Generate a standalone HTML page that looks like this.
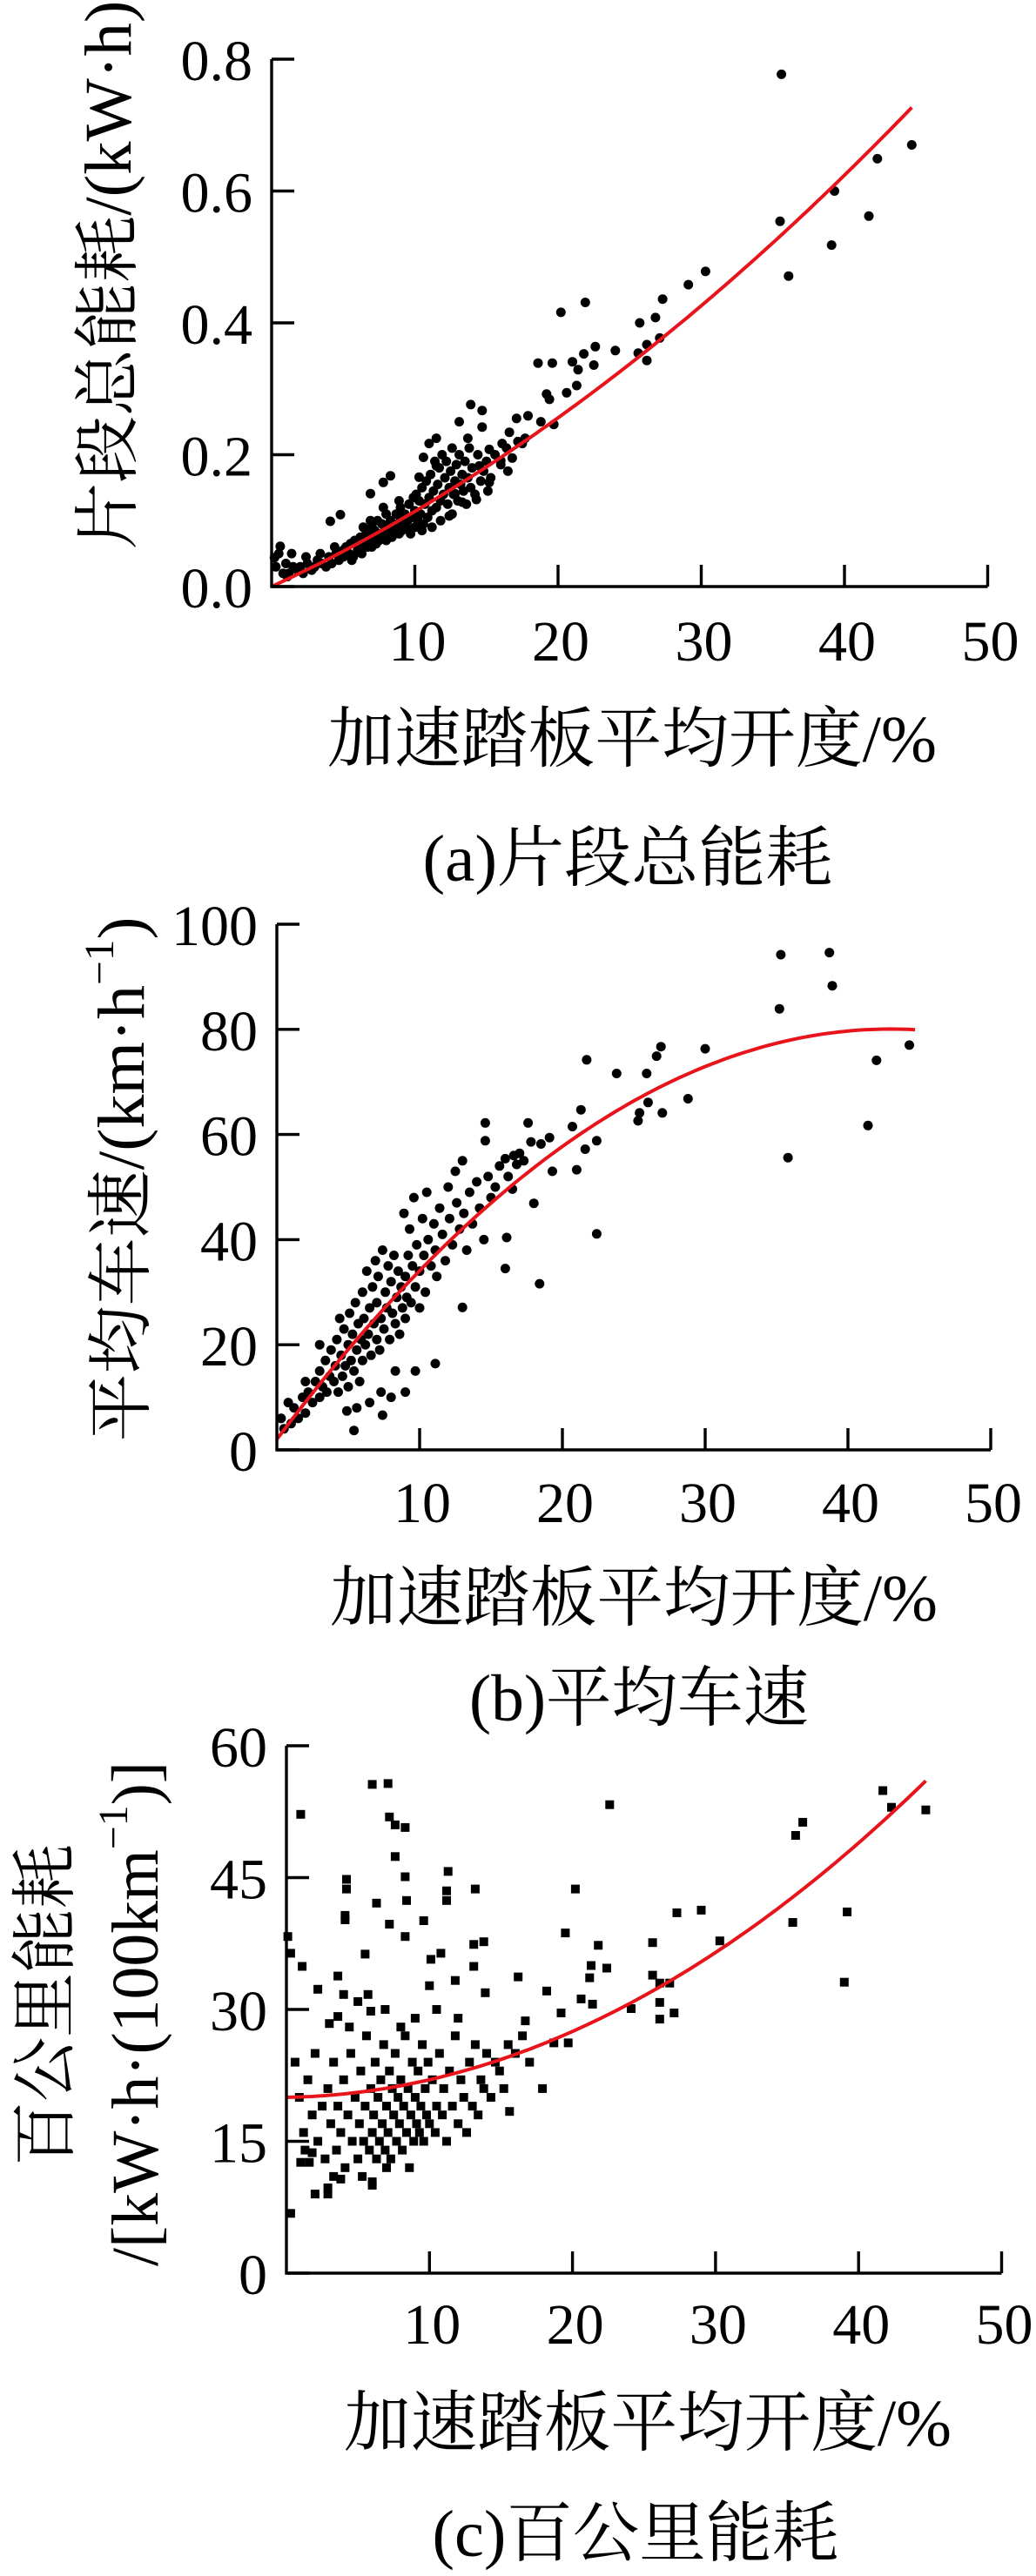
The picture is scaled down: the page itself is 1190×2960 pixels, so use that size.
<!DOCTYPE html>
<html><head><meta charset="utf-8">
<style>
html,body{margin:0;padding:0;background:#fff;}
svg{display:block;}
.tk{font-family:"Liberation Serif",serif;font-size:66px;fill:#000;}
.tt{font-family:"Liberation Serif","Noto Serif CJK SC",serif;font-size:76px;fill:#000;}
</style></head>
<body>
<svg id="fig" width="1190" height="2960" viewBox="0 0 1190 2960" xmlns="http://www.w3.org/2000/svg">
<rect width="1190" height="2960" fill="#fff"/>
<g id="pa"></g>
<g id="pb"></g>
<g id="pc"></g>
</svg>
<script>
// ---------- data ----------
const xTicks = [10,20,30,40,50];
const yTicksA = [0.0,0.2,0.4,0.6,0.8];
const yTickLabelsA = ["0.0","0.2","0.4","0.6","0.8"];
const yTicksB = [0,20,40,60,80,100];
const yTicksC = [0,15,30,45,60];

const xA = [35.6,44.7,42.3,39.3,35.5,41.7,39.1,36.1,30.3,29.1,27.3,26.8,25.7,27.1,26.2,25.6,26.2,24.0,22.6,21.9,20.2,21.8,21.0,21.4,22.5,21.3,20.6,19.6,18.6,19.2,19.4,19.7,18.8,17.9,17.1,17.7,17.5,16.6,16.1,16.5,16.0,14.7,13.9,13.1,13.7,14.7,15.2,14.5,15.2,15.1,14.3,13.3,12.8,12.4,11.5,11.0,10.6,11.5,10.3,8.3,7.8,6.9,4.8,4.1,0.6,0.2,
0.3,0.8,1.0,1.2,1.5,1.8,2.0,2.2,2.5,2.8,3.0,3.2,3.5,3.8,4.0,4.2,4.5,4.7,5.0,5.0,5.2,5.4,5.5,5.7,5.8,6.0,6.1,6.2,6.3,6.5,6.6,6.7,6.8,7.0,7.0,7.1,7.2,7.3,7.4,7.5,7.6,7.7,7.8,7.9,8.0,8.0,8.1,8.2,8.3,8.4,8.5,8.6,8.7,8.8,8.9,9.0,9.0,9.1,9.2,9.3,9.4,9.5,9.6,9.7,9.8,10.0,10.0,10.1,10.2,10.3,10.4,10.5,10.6,10.7,10.8,10.9,11.0,11.1,11.2,11.3,11.4,11.5,11.6,11.7,11.8,11.9,12.0,12.1,12.2,12.3,12.4,12.5,12.6,12.7,12.8,12.9,13.0,13.1,13.2,13.3,13.4,13.5,13.6,13.7,13.8,13.9,14.0,14.2,14.4,14.6,14.8,15.0,15.3,15.6,16.0,16.4,16.8,17.2,3.4,4.4,5.6,6.4,2.4,1.4,0.5,1.1,9.9,8.9,7.8,6.9,11.2,12.6,11.8,10.5];
const yA = [0.777,0.670,0.649,0.600,0.554,0.562,0.518,0.471,0.478,0.458,0.436,0.408,0.400,0.377,0.367,0.354,0.343,0.358,0.364,0.431,0.416,0.353,0.341,0.329,0.336,0.305,0.294,0.339,0.339,0.292,0.284,0.246,0.250,0.259,0.255,0.225,0.217,0.234,0.217,0.175,0.191,0.267,0.276,0.250,0.225,0.242,0.208,0.183,0.158,0.145,0.132,0.128,0.141,0.107,0.225,0.217,0.196,0.183,0.166,0.168,0.158,0.141,0.109,0.099,0.061,0.044,
0.03,0.02,0.035,0.02,0.03,0.025,0.03,0.02,0.035,0.025,0.03,0.04,0.035,0.03,0.045,0.035,0.05,0.04,0.055,0.045,0.06,0.05,0.065,0.045,0.07,0.055,0.06,0.075,0.05,0.065,0.08,0.06,0.07,0.09,0.06,0.075,0.085,0.065,0.1,0.07,0.08,0.095,0.075,0.085,0.11,0.07,0.09,0.08,0.1,0.075,0.095,0.085,0.11,0.09,0.08,0.1,0.12,0.085,0.095,0.11,0.09,0.1,0.125,0.08,0.105,0.115,0.09,0.14,0.1,0.13,0.11,0.15,0.095,0.125,0.16,0.105,0.135,0.17,0.115,0.145,0.19,0.12,0.155,0.18,0.13,0.2,0.14,0.165,0.19,0.125,0.15,0.175,0.21,0.14,0.16,0.185,0.13,0.2,0.155,0.17,0.145,0.19,0.125,0.165,0.21,0.15,0.18,0.14,0.2,0.16,0.175,0.19,0.165,0.2,0.185,0.21,0.195,0.22,0.05,0.06,0.04,0.09,0.045,0.05,0.05,0.015,0.135,0.13,0.12,0.1,0.09,0.11,0.1,0.085];

const xB = [35.3,38.7,38.9,35.2,44.3,42.0,41.4,35.8,30.0,26.9,26.6,25.9,23.8,21.7,28.8,27.0,26.0,25.4,25.3,21.3,20.7,22.4,21.6,21.0,22.4,19.3,19.1,18.5,17.8,17.6,18.0,18.4,17.0,16.8,16.0,16.5,16.1,16.0,14.6,14.6,11.1,13.0,5.4,4.9,7.4,
0.3,0.5,0.8,1.0,1.2,1.5,1.8,2.0,2.2,2.5,2.7,3.0,3.0,3.2,3.4,3.5,3.7,3.8,4.0,4.1,4.2,4.3,4.5,4.6,4.7,4.8,5.0,5.0,5.1,5.2,5.3,5.4,5.5,5.6,5.7,5.8,5.9,6.0,6.0,6.1,6.2,6.3,6.4,6.5,6.6,6.7,6.8,6.9,7.0,7.0,7.1,7.2,7.3,7.4,7.5,7.6,7.7,7.8,7.9,8.0,8.1,8.2,8.3,8.4,8.5,8.6,8.7,8.8,8.9,9.0,9.0,9.1,9.2,9.3,9.4,9.5,9.6,9.7,9.8,10.0,10.0,10.2,10.3,10.4,10.5,10.6,10.8,11.0,11.1,11.2,11.4,11.6,11.8,12.0,12.1,12.3,12.5,12.6,12.8,13.0,13.1,13.3,13.5,13.7,14.0,14.2,14.5,14.8,15.0,15.3,15.6,16.2,16.6,17.3,6.5,5.6,7.3,8.3,9.0,8.0,9.7,3.0,4.4,2.0];
const yB = [94.2,94.6,88.3,83.9,77.0,74.1,61.7,55.6,76.3,76.7,74.9,71.6,71.6,74.2,66.8,64.1,66.1,64.1,62.6,64.7,61.5,58.8,57.2,53.3,41.1,53.0,59.4,58.2,58.6,62.2,46.9,31.6,56.4,54.3,55.4,49.6,40.4,34.5,62.2,58.8,16.4,27.1,3.7,7.4,6.6,
6,4,9,5,8,6,10,7,11,9,13,10,15,12,17,11,14,19,13,16,21,11,18,14,23,16,20,12,26,17,22,15,28,19,24,13,21,30,17,25,20,34,22,27,18,31,24,36,21,28,33,19,25,38,23,30,27,35,21,32,26,37,24,29,34,22,31,27,45,33,25,29,37,42,28,35,48,31,39,34,27,44,37,30,49,40,35,43,38,33,46,41,36,50,44,39,53,47,42,55,45,38,49,43,51,46,40,52,48,50,54,52,56,55,9,8,11,15,11,10,15,20,25,13];

const xC = [41.7,42.3,44.7,36.1,35.6,35.4,39.2,39.0,29.0,27.3,30.3,25.6,25.6,26.1,26.8,26.1,26.1,27.1,24.1,22.6,20.2,21.8,21.3,22.4,21.2,20.6,21.4,19.5,19.2,19.7,18.2,18.7,17.9,16.7,16.2,15.6,7.1,6.0,7.2,8.3,7.6,7.6,8.3,8.4,6.3,7.2,8.3,9.6,11.3,11.2,11.2,13.2,13.8,13.1,13.1,13.9,10.8,10.1,10.0,11.8,4.2,4.2,4.1,4.1,5.5,1.0,0.1,0.3,1.1,3.6,2.2,4.0,5.0,5.7,5.9,3.0,3.6,0.3,2.0,2.9,2.9,3.8,6.0,1.0,1.6,1.8,1.3,
0.6,0.9,1.2,1.5,1.8,2.0,2.2,2.5,2.7,2.9,3.1,3.3,3.5,3.6,3.8,4.0,4.1,4.3,4.5,4.6,4.8,5.0,5.1,5.2,5.4,5.5,5.6,5.8,5.9,6.0,6.1,6.2,6.3,6.4,6.5,6.6,6.7,6.8,6.9,7.0,7.1,7.2,7.3,7.4,7.5,7.6,7.7,7.8,7.9,8.0,8.1,8.2,8.3,8.4,8.5,8.6,8.7,8.8,8.9,9.0,9.1,9.2,9.3,9.4,9.5,9.6,9.7,9.8,9.9,10.0,10.2,10.4,10.5,10.7,10.9,11.0,11.2,11.4,11.6,11.8,12.0,12.2,12.4,12.6,12.8,13.0,13.2,13.4,13.6,13.8,14.0,14.3,14.6,14.9,15.2,15.5,16.0,16.5,17.0,5.3,6.0,7.0,3.3,4.4,6.9,9.0,8.0,10.5,12.0];
const yC = [54.9,53.0,52.7,51.3,49.8,39.9,41.1,33.1,41.3,41.0,37.8,37.6,33.9,33.0,33.0,30.8,28.9,29.6,30.1,53.3,43.7,37.3,35.0,34.7,33.6,31.2,30.6,38.7,29.6,26.2,32.1,26.2,21.0,28.7,33.7,18.4,55.7,55.6,51.9,50.7,51.0,47.4,45.1,42.4,42.1,39.7,38.3,40.1,45.7,43.5,42.4,43.7,37.7,37.4,34.9,31.9,36.4,35.7,32.7,33.3,44.8,43.7,40.7,40.2,36.3,52.2,38.3,36.4,34.9,33.8,32.3,31.7,30.9,31.7,29.8,28.4,29.2,6.8,9.0,9.0,9.7,10.7,10.4,12.6,12.6,13.7,14.0,
24,20,16,22,18,25,15,19,13,21,17,24,14,19,16,22,12,18,25,15,20,13,17,23,15,19,27,14,21,16,18,24,13,20,15,22,17,26,14,19,16,23,13,21,18,25,15,20,17,22,14,19,27,16,21,12,18,24,15,20,17,23,16,19,26,15,21,18,24,17,22,16,19,25,18,21,15,23,19,27,17,22,20,16,24,19,26,18,22,21,25,20,24,23,21,26,25,27,24,11,10,12,11,28,30,29,28,30,29];

// fitted curve coefficients (c0 + c1*x + c2*x^2) and x range
const fitA = [0, 0.0100, 0.00014];
const fitB = [2, 3.63, -0.0422];
const fitC = [20, 0.0264, 0.01743];
const fitXMax = 44.7;

// ---------- rendering ----------
const NS = "http://www.w3.org/2000/svg";
function mk(parent, tag, attrs) {
  const e = document.createElementNS(NS, tag);
  for (const k in attrs) e.setAttribute(k, attrs[k]);
  parent.appendChild(e);
  return e;
}
function drawPanel(gid, cfg, xs, ys, fit, yTicks, yLabels, marker) {
  const g = document.getElementById(gid);
  const sx = v => cfg.x0 + v * cfg.xPer;
  const sy = v => cfg.y0 - (v / cfg.yMax) * (cfg.y0 - cfg.yTop);
  const pg = mk(g, "g", {});
  
  
  for (let i = 0; i < xs.length; i++) {
    let p;
    if (marker === "sq") {
      p = mk(pg, "rect", {x: (sx(xs[i]) - 5).toFixed(1), y: (sy(ys[i]) - 5).toFixed(1), width: 10, height: 10, fill: "#000"});
    } else {
      p = mk(pg, "circle", {cx: sx(xs[i]).toFixed(1), cy: sy(ys[i]).toFixed(1), r: 5.5, fill: "#000"});
    }
    
    
  }
  let d = "";
  for (let k = 0; k <= 100; k++) {
    const x = fitXMax * k / 100;
    const y = fit[0] + fit[1] * x + fit[2] * x * x;
    d += (k ? "L" : "M") + sx(x).toFixed(1) + "," + sy(y).toFixed(1);
  }
  const c = mk(g, "path", {d: d, fill: "none", stroke: "#e8141b", "stroke-width": 4});
  
  
  const ax = mk(g, "path", {d: `M${cfg.x0},${cfg.yTop}V${cfg.y0}H${sx(50)}`, fill: "none", stroke: "#000", "stroke-width": 3.4});
  
  
  xTicks.forEach(t => {
    const l = mk(g, "line", {x1: sx(t), x2: sx(t), y1: cfg.y0, y2: cfg.y0 - 25, stroke: "#000", "stroke-width": 3.4});
    
    
    const tx = mk(g, "text", {x: sx(t) + 3, y: cfg.xLabY, "text-anchor": "middle", class: "tk"});
    tx.textContent = String(t);
    
    
  });
  yTicks.forEach((t, i) => {
    const l = mk(g, "line", {x1: cfg.x0, x2: cfg.x0 + 26, y1: sy(t), y2: sy(t), stroke: "#000", "stroke-width": 3.4});
    
    
    const tx = mk(g, "text", {x: cfg.x0 - 22, y: sy(t) + 24, "text-anchor": "end", class: "tk"});
    tx.textContent = yLabels ? yLabels[i] : String(t);
    
    
  });
}
drawPanel("pa", {x0: 312, xPer: 16.45, y0: 674, yTop: 68, yMax: 0.8, xLabY: 759}, xA, yA, fitA, yTicksA, yTickLabelsA, "dot");
drawPanel("pb", {x0: 318, xPer: 16.4, y0: 1666, yTop: 1062, yMax: 100, xLabY: 1749}, xB, yB, fitB, yTicksB, null, "dot");
drawPanel("pc", {x0: 329, xPer: 16.43, y0: 2612, yTop: 2006, yMax: 60, xLabY: 2693}, xC, yC, fitC, yTicksC, null, "sq");
</script>
<script>
(function(){
const NS="http://www.w3.org/2000/svg";
const svg=document.getElementById("fig");
function txt(x,y,s,len,rot,name){
  const t=document.createElementNS(NS,"text");
  t.setAttribute("x",x);t.setAttribute("y",y);
  t.setAttribute("class","tt");
  t.setAttribute("text-anchor","middle");
  if(len){t.setAttribute("textLength",len);t.setAttribute("lengthAdjust","spacingAndGlyphs");}
  if(rot){t.setAttribute("transform",`rotate(-90 ${x} ${y})`);t.setAttribute("dominant-baseline","central");}
  t.innerHTML=s;
  
  
  svg.appendChild(t);
}
txt(726,875,"加速踏板平均开度/%",700,false,"x-axis-title-a");
txt(721,1012,"(a)片段总能耗",471,false,"caption-a");
txt(125,316,"片段总能耗/(kW·h)",631,true,"y-axis-title-a");
txt(728,1862,"加速踏板平均开度/%",698,false,"x-axis-title-b");
txt(734,1977,"(b)平均车速",390,false,"caption-b");
txt(140,1355,"平均车速/(km·h<tspan font-size='48' dy='-26'>−1</tspan><tspan dy='26'>)</tspan>",603,true,"y-axis-title-b");
txt(744,2810,"加速踏板平均开度/%",698,false,"x-axis-title-c");
txt(730,2937,"(c)百公里能耗",467,false,"caption-c");
txt(53,2304,"百公里能耗",370,true,"y-axis-title-c-line1");
txt(156,2314,"/[kW·h·(100km<tspan font-size='48' dy='-26'>−1</tspan><tspan dy='26'>)]</tspan>",580,true,"y-axis-title-c-line2");
})();
</script>
</body></html>
